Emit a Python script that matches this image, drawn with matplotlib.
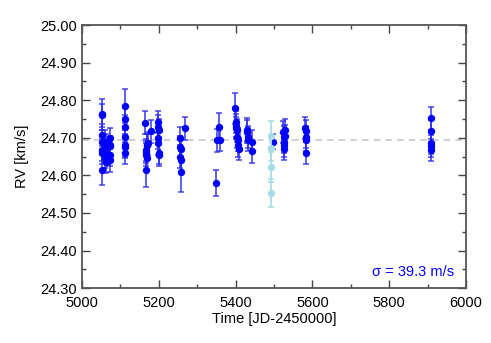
import numpy as np
import matplotlib
matplotlib.use("Agg")
from matplotlib import pyplot as plt
from matplotlib.ticker import MultipleLocator

plt.rcParams['font.family'] = ['Liberation Sans', 'DejaVu Sans']

# main RV points (time JD-2450000, RV km/s, error km/s)
t = [5051, 5051, 5052, 5051, 5052, 5053, 5052,
     5060, 5060, 5061, 5062, 5062,
     5072, 5073, 5074, 5072, 5073,
     5112, 5112, 5113, 5112, 5113, 5112, 5113,
     5165, 5166, 5167, 5166, 5168, 5169, 5167, 5170, 5171,
     5181,
     5198, 5199, 5200, 5198, 5199, 5200, 5201,
     5255, 5256, 5257, 5256, 5258, 5258,
     5268,
     5350, 5351, 5358, 5359,
     5398, 5400, 5401, 5402, 5403, 5404, 5405, 5406, 5408,
     5430, 5431, 5432, 5433, 5443, 5444,
     5498,
     5524, 5525, 5526, 5525, 5527, 5528, 5529,
     5582, 5583, 5584, 5583, 5584,
     5908, 5908, 5909, 5909, 5910]
rv = [24.615, 24.760, 24.762, 24.708, 24.668, 24.690, 24.660,
      24.690, 24.665, 24.650, 24.635, 24.680,
      24.680, 24.655, 24.640, 24.678, 24.700,
      24.785, 24.750, 24.730, 24.702, 24.680, 24.675, 24.660,
      24.740, 24.668, 24.662, 24.655, 24.680, 24.645, 24.615, 24.680, 24.685,
      24.717,
      24.730, 24.742, 24.720, 24.700, 24.685, 24.655, 24.660,
      24.700, 24.676, 24.670, 24.650, 24.642, 24.610,
      24.725,
      24.580, 24.693, 24.730, 24.695,
      24.778, 24.742, 24.732, 24.726, 24.720, 24.702, 24.695, 24.680, 24.670,
      24.722, 24.716, 24.702, 24.695, 24.664, 24.690,
      24.690,
      24.715, 24.702, 24.690, 24.680, 24.670, 24.720, 24.705,
      24.726, 24.718, 24.702, 24.695, 24.660,
      24.752, 24.718, 24.686, 24.678, 24.667]
err = [0.040, 0.030, 0.040, 0.030, 0.030, 0.030, 0.030,
       0.030, 0.030, 0.030, 0.030, 0.030,
       0.025, 0.030, 0.030, 0.025, 0.025,
       0.045, 0.030, 0.030, 0.030, 0.030, 0.030, 0.030,
       0.030, 0.030, 0.030, 0.030, 0.030, 0.030, 0.045, 0.030, 0.030,
       0.030,
       0.030, 0.030, 0.030, 0.030, 0.030, 0.030, 0.030,
       0.030, 0.030, 0.030, 0.030, 0.030, 0.055,
       0.030,
       0.035, 0.030, 0.035, 0.030,
       0.040, 0.030, 0.030, 0.030, 0.030, 0.030, 0.030, 0.030, 0.030,
       0.030, 0.030, 0.030, 0.030, 0.030, 0.030,
       0.020,
       0.030, 0.030, 0.030, 0.030, 0.030, 0.030, 0.030,
       0.030, 0.030, 0.030, 0.030, 0.030,
       0.030, 0.030, 0.030, 0.030, 0.030]

# highlighted (light blue) points
t_hl = [5492, 5492, 5493, 5492]
rv_hl = [24.705, 24.672, 24.622, 24.553]
err_hl = [0.040, 0.035, 0.040, 0.038]

rv_mean = 24.693
sigma_text = "σ = 39.3 m/s"

fig = plt.figure(figsize=(4.91, 3.43), dpi=100)
ax = fig.add_axes([0.167, 0.160, 0.782, 0.767])

ax.axhline(rv_mean, color='#c8c8c8', ls=(0, (4, 3)), lw=1.2, zorder=1)

ax.errorbar(t, rv, yerr=err, fmt='none', ecolor='#2a2af0', alpha=0.8,
            elinewidth=1.3, capsize=2.5, capthick=1.2, zorder=3)
ax.plot(t, rv, 'o', color='#0000ff', ms=4.3, zorder=4)
ax.errorbar(t_hl, rv_hl, yerr=err_hl, fmt='o', color='#a8dde6', ecolor='#a8dde6',
            elinewidth=1.3, capsize=2.5, capthick=1.2, ms=4.3, zorder=5)

ax.set_xlim(5000, 6000)
ax.set_ylim(24.30, 25.00)
ax.xaxis.set_major_locator(MultipleLocator(200))
ax.xaxis.set_minor_locator(MultipleLocator(100))
ax.yaxis.set_major_locator(MultipleLocator(0.1))
ax.yaxis.set_minor_locator(MultipleLocator(0.05))
ax.yaxis.set_major_formatter(matplotlib.ticker.FormatStrFormatter('%.2f'))
ax.tick_params(which='both', direction='in', top=True, right=True,
               color='#444444', labelsize=10.5)
ax.tick_params(axis='x', pad=6)
ax.tick_params(which='major', length=6, width=1)
ax.tick_params(which='minor', length=3, width=1)
for s in ax.spines.values():
    s.set_color('#555555')
    s.set_linewidth(1.3)

ax.set_xlabel('Time [JD-2450000]', fontsize=10.5, labelpad=1)
ax.set_ylabel('RV [km/s]', fontsize=10.5, labelpad=8)
ax.text(0.97, 0.06, sigma_text, transform=ax.transAxes, ha='right', va='center',
        color='#0000ff', fontsize=10.5)

fig.savefig('out.png', dpi=100)
